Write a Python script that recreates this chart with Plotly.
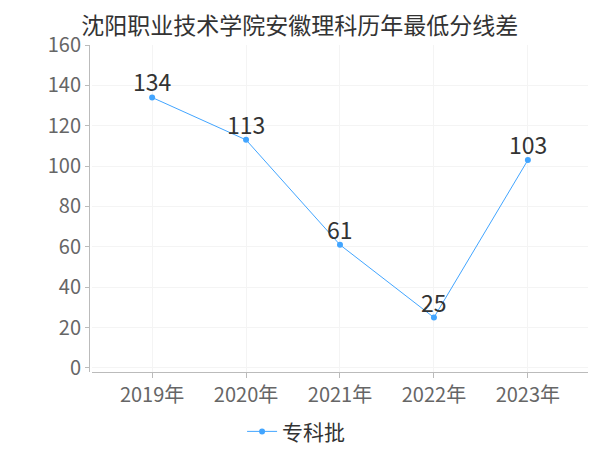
import plotly.graph_objects as go

years = ["2019年", "2020年", "2021年", "2022年", "2023年"]
scores = [134, 113, 61, 25, 103]
series_name = "专科批"
title = "沈阳职业技术学院安徽理科历年最低分线差"

font = "Noto Sans CJK SC, Noto Sans, sans-serif"
fig = go.Figure()
fig.add_trace(go.Scatter(
    x=years, y=scores, name=series_name, mode="lines+markers",
    line=dict(color="#42a5ff", width=1),
    marker=dict(color="#42a5ff", size=6),
))
for xv, yv in zip(years, scores):
    fig.add_annotation(x=xv, y=yv, text=str(yv), showarrow=False,
                       xanchor="center", yanchor="bottom", yshift=-3,
                       font=dict(size=23, color="#333333", family=font))
fig.update_layout(
    width=592, height=442,
    margin=dict(l=81, r=12, t=37, b=78, autoexpand=False),
    paper_bgcolor="white", plot_bgcolor="white",
    title=dict(text=title, x=0.493, xanchor="center", y=0.96, yanchor="middle",
               font=dict(size=23, color="#333333", family=font)),
    showlegend=True,
    legend=dict(orientation="h", x=0.415, xanchor="center", y=-0.12, yanchor="top",
                font=dict(size=21, color="#333333", family=font)),
    xaxis=dict(domain=[0.006, 1], range=[-0.64, 4.64], showline=True, linecolor="#bbbbbb",
               ticks="outside", ticklen=5, tickcolor="#bbbbbb", automargin=False,
               showgrid=True, gridcolor="#f4f4f4",
               tickfont=dict(size=20, color="#666666", family=font)),
    yaxis=dict(range=[-2, 160], dtick=20, anchor="free", position=0, automargin=False,
               showline=True, linecolor="#bbbbbb", ticks="outside", ticklen=4,
               tickcolor="#bbbbbb", showgrid=True, gridcolor="#f4f4f4", zeroline=False,
               tickfont=dict(size=20, color="#666666", family=font)),
)
fig.write_html("out.html")
